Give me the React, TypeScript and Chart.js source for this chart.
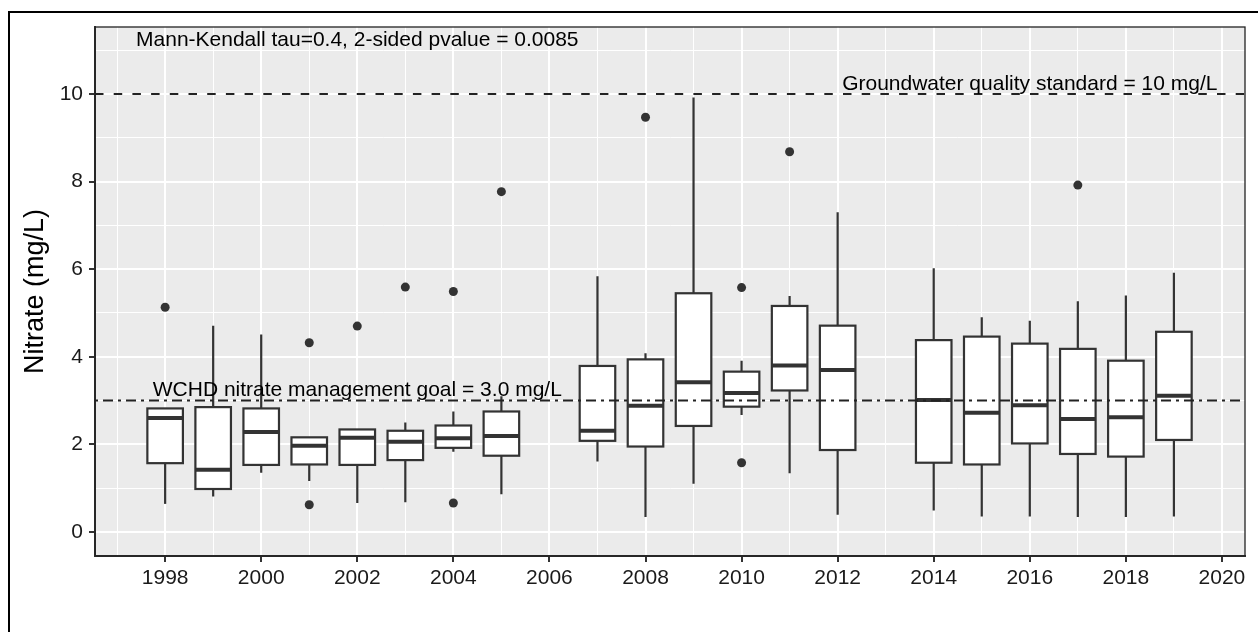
import React, { useEffect, useRef } from 'react';
import { Chart, registerables } from 'chart.js';

Chart.register(...registerables);

// Sampling years with a box (2006 and 2013 have no samples)
const years = [1998, 1999, 2000, 2001, 2002, 2003, 2004, 2005, 2007, 2008, 2009, 2010, 2011, 2012, 2014, 2015, 2016, 2017, 2018, 2019];
// Box statistics per year (mg/L)
const whiskerLow = [0.64, 0.81, 1.35, 1.16, 0.66, 0.68, 1.83, 0.86, 1.61, 0.34, 1.10, 2.67, 1.34, 0.39, 0.49, 0.35, 0.35, 0.34, 0.34, 0.35];
const q1 = [1.57, 0.98, 1.53, 1.54, 1.53, 1.64, 1.92, 1.74, 2.08, 1.95, 2.42, 2.86, 3.23, 1.87, 1.58, 1.54, 2.02, 1.78, 1.72, 2.10];
const median = [2.60, 1.42, 2.28, 1.97, 2.15, 2.06, 2.14, 2.19, 2.31, 2.88, 3.42, 3.17, 3.80, 3.70, 3.01, 2.72, 2.89, 2.58, 2.62, 3.11];
const q3 = [2.82, 2.85, 2.82, 2.16, 2.34, 2.31, 2.43, 2.75, 3.79, 3.94, 5.45, 3.66, 5.16, 4.71, 4.38, 4.46, 4.30, 4.18, 3.91, 4.57];
const whiskerHigh = [2.82, 4.71, 4.51, 2.17, 2.34, 2.50, 2.75, 3.10, 5.84, 4.08, 9.92, 3.91, 5.39, 7.30, 6.02, 4.90, 4.82, 5.27, 5.40, 5.92];

// Outlying samples
const outlierYears = [1998, 2001, 2001, 2002, 2003, 2004, 2004, 2005, 2008, 2010, 2010, 2011, 2017];
const outlierValues = [5.13, 4.32, 0.62, 4.70, 5.59, 5.49, 0.66, 7.77, 9.47, 5.58, 1.58, 8.68, 7.92];

// Axis ticks: labelled majors on even values, minor grid on odd values
const xTicks = [1997, 1998, 1999, 2000, 2001, 2002, 2003, 2004, 2005, 2006, 2007, 2008, 2009, 2010, 2011, 2012, 2013, 2014, 2015, 2016, 2017, 2018, 2019, 2020];
const yTicks = [0, 1, 2, 3, 4, 5, 6, 7, 8, 9, 10, 11];

// Reference levels
const standardLevel = 10;
const goalLevel = 3.0;

// Annotations: text, x (year), y (baseline value)
const noteTexts = ['Mann-Kendall tau=0.4, 2-sided pvalue = 0.0085', 'Groundwater quality standard = 10 mg/L', 'WCHD nitrate management goal = 3.0 mg/L'];
const noteX = [2002, 2016, 2002];
const noteY = [11.1, 10.1, 3.11];

const FONT = '"Liberation Sans", Arial, Helvetica, sans-serif';
const INK = '#333333';
const BOX_WIDTH = 0.74;

const isMajor = (v: number) => Math.round(v) % 2 === 0;

const boxPlotPlugin = {
  id: 'boxPlotPanel',
  beforeDraw(chart: any) {
    const { ctx, chartArea: a } = chart;
    ctx.save();
    ctx.fillStyle = '#EBEBEB';
    ctx.fillRect(a.left, a.top, a.right - a.left, a.bottom - a.top);
    ctx.restore();
  },
  beforeDatasetsDraw(chart: any) {
    const { ctx } = chart;
    const xs = chart.scales.x;
    const ys = chart.scales.y;
    ctx.save();
    ctx.strokeStyle = INK;
    years.forEach((yr, i) => {
      const cx = xs.getPixelForValue(yr);
      const x0 = xs.getPixelForValue(yr - BOX_WIDTH / 2);
      const x1 = xs.getPixelForValue(yr + BOX_WIDTH / 2);
      const yLo = ys.getPixelForValue(whiskerLow[i]);
      const yQ1 = ys.getPixelForValue(q1[i]);
      const yMed = ys.getPixelForValue(median[i]);
      const yQ3 = ys.getPixelForValue(q3[i]);
      const yHi = ys.getPixelForValue(whiskerHigh[i]);
      ctx.lineWidth = 2.2;
      ctx.beginPath();
      ctx.moveTo(cx, yQ3);
      ctx.lineTo(cx, yHi);
      ctx.moveTo(cx, yQ1);
      ctx.lineTo(cx, yLo);
      ctx.stroke();
      ctx.fillStyle = '#FFFFFF';
      ctx.fillRect(x0, yQ3, x1 - x0, yQ1 - yQ3);
      ctx.strokeRect(x0, yQ3, x1 - x0, yQ1 - yQ3);
      ctx.lineWidth = 4;
      ctx.beginPath();
      ctx.moveTo(x0, yMed);
      ctx.lineTo(x1, yMed);
      ctx.stroke();
    });
    ctx.restore();
  },
  afterDatasetsDraw(chart: any) {
    const { ctx, chartArea: a } = chart;
    const xs = chart.scales.x;
    const ys = chart.scales.y;
    ctx.save();
    // reference lines
    ctx.strokeStyle = '#222222';
    ctx.lineWidth = 2;
    const yStd = ys.getPixelForValue(standardLevel);
    ctx.setLineDash([8.5, 10.2]);
    ctx.lineDashOffset = 0;
    ctx.beginPath();
    ctx.moveTo(a.left, yStd);
    ctx.lineTo(a.right, yStd);
    ctx.stroke();
    const yGoal = ys.getPixelForValue(goalLevel);
    ctx.setLineDash([3, 5, 10, 5]);
    ctx.beginPath();
    ctx.moveTo(a.left, yGoal);
    ctx.lineTo(a.right, yGoal);
    ctx.stroke();
    ctx.setLineDash([]);
    // annotations
    ctx.fillStyle = '#000000';
    ctx.font = `21px ${FONT}`;
    ctx.textAlign = 'center';
    ctx.textBaseline = 'alphabetic';
    noteTexts.forEach((t, i) => {
      ctx.fillText(t, xs.getPixelForValue(noteX[i]), ys.getPixelForValue(noteY[i]));
    });
    // thin panel outline
    ctx.strokeStyle = '#222222';
    ctx.lineWidth = 1.3;
    ctx.strokeRect(a.left, a.top, a.right - a.left, a.bottom - a.top);
    ctx.restore();
  },
};

export default function App() {
  const canvasRef = useRef<HTMLCanvasElement | null>(null);

  useEffect(() => {
    const canvas = canvasRef.current;
    if (!canvas) return;
    const chart = new Chart(canvas, {
      type: 'scatter',
      data: {
        datasets: [
          {
            label: 'Outliers',
            data: outlierYears.map((x, i) => ({ x, y: outlierValues[i] })),
            pointRadius: 4.5,
            pointHoverRadius: 4.5,
            backgroundColor: INK,
            borderWidth: 0,
          },
        ],
      },
      options: {
        responsive: false,
        animation: false,
        devicePixelRatio: 1,
        events: [],
        layout: { padding: { left: 0, top: 27, right: 13, bottom: 0 } },
        plugins: {
          legend: { display: false },
          tooltip: { enabled: false },
        },
        scales: {
          x: {
            type: 'linear',
            min: 1996.54,
            max: 2020.48,
            afterBuildTicks: (scale: any) => {
              scale.ticks = xTicks.map((v) => ({ value: v }));
            },
            afterFit: (scale: any) => {
              scale.height = 76;
              scale.paddingLeft = 0;
              scale.paddingRight = 0;
            },
            ticks: {
              autoSkip: false,
              maxRotation: 0,
              padding: 4,
              color: '#1A1A1A',
              font: { size: 21, family: FONT },
              callback: (v: any) => (isMajor(Number(v)) ? String(v) : ''),
            },
            grid: {
              color: '#FFFFFF',
              lineWidth: (c: any) => (c.tick && isMajor(c.tick.value) ? 2 : 1),
              tickColor: (c: any) => (c.tick && isMajor(c.tick.value) ? INK : 'rgba(0,0,0,0)'),
              tickWidth: 2,
              tickLength: 6,
            },
            border: { display: true, color: INK, width: 2 },
          },
          y: {
            type: 'linear',
            min: -0.55,
            max: 11.53,
            afterBuildTicks: (scale: any) => {
              scale.ticks = yTicks.map((v) => ({ value: v }));
            },
            afterFit: (scale: any) => {
              scale.width = 95;
              scale.paddingTop = 0;
              scale.paddingBottom = 0;
            },
            ticks: {
              padding: 6,
              color: '#1A1A1A',
              font: { size: 21, family: FONT },
              callback: (v: any) => (isMajor(Number(v)) ? String(v) : ''),
            },
            grid: {
              color: '#FFFFFF',
              lineWidth: (c: any) => (c.tick && isMajor(c.tick.value) ? 2 : 1),
              tickColor: (c: any) => (c.tick && isMajor(c.tick.value) ? INK : 'rgba(0,0,0,0)'),
              tickWidth: 2,
              tickLength: 6,
            },
            border: { display: true, color: INK, width: 2 },
            title: {
              display: true,
              text: 'Nitrate (mg/L)',
              color: '#000000',
              font: { size: 27, family: FONT },
              padding: { top: 19, bottom: 0 },
            },
          },
        },
      },
      plugins: [boxPlotPlugin],
    } as any);
    return () => chart.destroy();
  }, []);

  return (
    <div style={{ position: 'fixed', left: 0, top: 0, width: 1258, height: 632, overflow: 'hidden', background: '#FFFFFF' }}>
      <div style={{ position: 'absolute', left: 8, top: 11, width: 1300, height: 700, border: '2px solid #000000' }} />
      <canvas ref={canvasRef} width={1258} height={632} style={{ position: 'absolute', left: 0, top: 0, width: 1258, height: 632 }} />
    </div>
  );
}
